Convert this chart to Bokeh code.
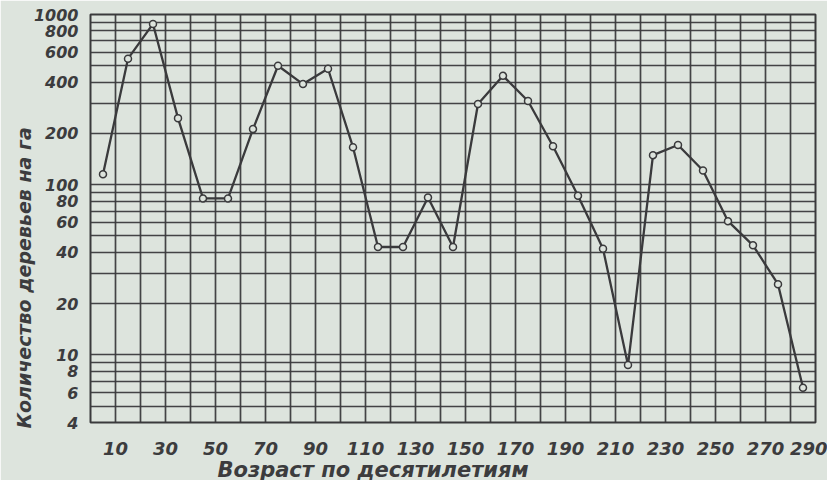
import math
from bokeh.plotting import figure
from bokeh.models import FixedTicker, Title, Range1d
from bokeh.embed import file_html
from bokeh.resources import INLINE

# Age by decades (midpoints) and number of trees per hectare
ages = [5, 15, 25, 35, 45, 55, 65, 75, 85, 95, 105, 115, 125, 135, 145,
        155, 165, 175, 185, 195, 205, 215, 225, 235, 245, 255, 265, 275, 285]
trees = [115, 550, 880, 246, 83, 83, 212, 500, 390, 480, 166, 43, 43, 84, 43,
         298, 436, 310, 168, 86, 42, 8.7, 149, 171, 121, 61, 44, 26, 6.4]

x_ticks = [10, 30, 50, 70, 90, 110, 130, 150, 170, 190, 210, 230, 250, 270, 290]
y_ticks = [4, 6, 8, 10, 20, 40, 60, 80, 100, 200, 400, 600, 800, 1000]

x_title = "Возраст по десятилетиям"
y_title = "Количество деревьев на га"

BG = "#dde4dd"
INK = "#3a3a3c"
TXT = "#3c3c3e"
FONT = "DejaVu Sans"

p = figure(width=827, height=480, y_axis_type="log",
           x_range=Range1d(0, 290), y_range=Range1d(4, 1000),
           output_backend="svg", toolbar_location=None,
           min_border_left=90, min_border_right=12,
           min_border_top=14, min_border_bottom=58)
p.frame_width = 725
p.frame_height = 408

p.background_fill_color = BG
p.border_fill_color = BG
p.outline_line_color = INK
p.outline_line_width = 2

# grid
p.xgrid.ticker = FixedTicker(ticks=list(range(0, 300, 10)))
grid_y = [m * 10 ** e for e in range(0, 3) for m in range(1, 10)] + [1000]
grid_y = [v for v in grid_y if v >= 4]
p.ygrid.ticker = FixedTicker(ticks=grid_y)
for g in (p.xgrid, p.ygrid):
    g.grid_line_color = INK
    g.grid_line_width = 1.7
    g.grid_line_alpha = 0.95

p.xaxis.ticker = FixedTicker(ticks=x_ticks)
p.yaxis.ticker = FixedTicker(ticks=y_ticks)
p.yaxis.major_label_overrides = {v: str(v) for v in y_ticks}

for ax in (p.xaxis, p.yaxis):
    ax.axis_line_color = None
    ax.major_tick_line_color = None
    ax.minor_tick_line_color = None
    ax.major_label_text_font = FONT
    ax.major_label_text_font_style = "bold italic"
    ax.major_label_text_color = TXT
p.xaxis.major_label_text_font_size = "18px"
p.xaxis.major_label_standoff = 13
p.yaxis.major_label_text_font_size = "16px"
p.yaxis.major_label_standoff = 6

p.line(ages, trees, line_color=INK, line_width=2.3)
p.scatter(ages, trees, marker="circle", size=7, fill_color=BG,
          line_color=INK, line_width=1.5)

p.add_layout(Title(text=x_title, align="left", offset=127, standoff=-4,
                   text_font=FONT, text_font_style="bold italic",
                   text_font_size="21px", text_color=TXT), "below")
p.add_layout(Title(text=y_title, align="left", offset=-6, standoff=-8,
                   text_font=FONT, text_font_style="bold italic",
                   text_font_size="19px", text_color=TXT), "left")

open("out.html", "w").write(file_html(p, INLINE))
